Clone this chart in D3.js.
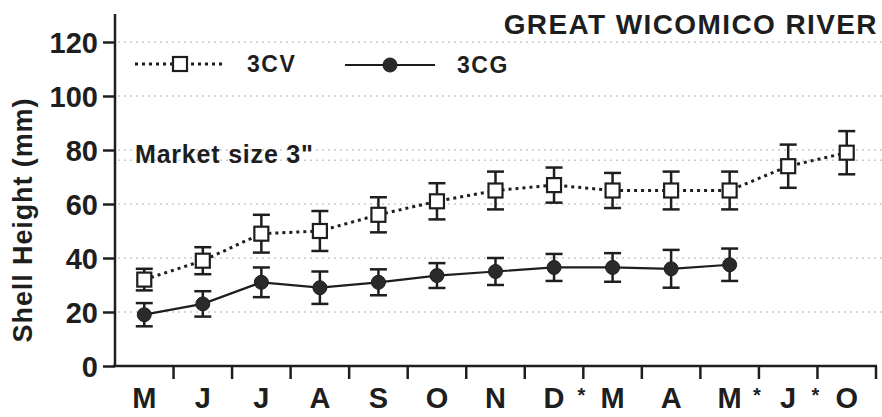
<!DOCTYPE html>
<html>
<head>
<meta charset="utf-8">
<script src="https://cdn.jsdelivr.net/npm/d3@7"></script>
<style>
  html, body { margin: 0; padding: 0; background: #fff; }
  svg { display: block; font-family: "Liberation Sans", Arial, sans-serif; font-weight: bold; }
</style>
</head>
<body>
<div id="chart"></div>
<script>
// Months of sampling (duplicated letters, so keyed by index)
const months = ["M", "J", "J", "A", "S", "O", "N", "D", "M", "A", "M", "J", "O"];
// Asterisks sit on the tick after these months
const starredAfter = [7, 10, 11];

// 3CV (open squares, dotted line)
const cvMean = [32, 39, 49, 50, 56, 61, 65, 67, 65, 65, 65, 74, 79];
const cvErr  = [4, 5, 7, 7.4, 6.5, 6.7, 7, 6.5, 6.5, 7, 7, 8, 8];
// 3CG (filled circles, solid line), no data for last two
const cgMean = [19, 23, 31, 29, 31, 33.5, 35, 36.5, 36.5, 36, 37.5];
const cgErr  = [4.3, 4.7, 5.5, 6, 4.8, 4.6, 5, 5, 5.3, 7, 6];

const yTicks = [0, 20, 40, 60, 80, 100, 120];
const marketSize = 76.2; // 3 inches in mm

const width = 882, height = 417;
const ink = "#1e1e1e";

const svg = d3.select("#chart").append("svg")
  .attr("width", width)
  .attr("height", height);

// Scales
const x = d3.scaleBand()
  .domain(d3.range(months.length))
  .range([115, 876])
  .padding(0);
const y = d3.scaleLinear()
  .domain([0, 120])
  .range([366, 42]);
const cx = i => x(i) + x.bandwidth() / 2;

// Faint dotted grid lines
svg.append("g")
  .selectAll("line")
  .data(yTicks.filter(d => d > 0).concat([marketSize]))
  .enter()
  .append("line")
  .attr("x1", 118)
  .attr("x2", 882)
  .attr("y1", d => y(d))
  .attr("y2", d => y(d))
  .attr("stroke", "#cacaca")
  .attr("stroke-width", 1.5)
  .attr("stroke-dasharray", "2,4");

// Y axis
const yAxis = svg.append("g")
  .attr("transform", "translate(115,0)")
  .call(d3.axisLeft(y).tickValues(yTicks).tickSize(12).tickPadding(5));
yAxis.select(".domain").remove();
yAxis.append("line")
  .attr("x1", 0).attr("x2", 0)
  .attr("y1", 14).attr("y2", 367)
  .attr("stroke", ink).attr("stroke-width", 2.5);
yAxis.selectAll(".tick line").attr("stroke", ink).attr("stroke-width", 2.5);
yAxis.selectAll(".tick text")
  .attr("fill", ink)
  .style("font-size", "29px")
  .style("font-weight", "bold")
  .attr("dy", "0.36em");

// X axis: ticks at band boundaries
const xAxis = svg.append("g").attr("transform", "translate(0,366)");
xAxis.append("line")
  .attr("x1", 113).attr("x2", 877)
  .attr("stroke", ink).attr("stroke-width", 2.5);
xAxis.selectAll("line.tick")
  .data(d3.range(1, months.length + 1))
  .enter()
  .append("line")
  .attr("class", "tick")
  .attr("x1", i => x.step() * i + 115)
  .attr("x2", i => x.step() * i + 115)
  .attr("y1", 0).attr("y2", 13)
  .attr("stroke", ink).attr("stroke-width", 2.5);
xAxis.selectAll("text.month")
  .data(months)
  .enter()
  .append("text")
  .attr("class", "month")
  .attr("x", (d, i) => cx(i))
  .attr("y", 42)
  .attr("text-anchor", "middle")
  .attr("fill", ink)
  .style("font-size", "29px")
  .text(d => d);
xAxis.selectAll("text.star")
  .data(starredAfter)
  .enter()
  .append("text")
  .attr("class", "star")
  .attr("x", i => x(i) + x.step() - 2)
  .attr("y", 36)
  .attr("text-anchor", "middle")
  .attr("fill", ink)
  .style("font-size", "20px")
  .text("*");

// Y axis title
svg.append("text")
  .attr("transform", "translate(32,220) rotate(-90)")
  .attr("text-anchor", "middle")
  .attr("fill", ink)
  .style("font-size", "27px")
  .style("letter-spacing", "0.9px")
  .text("Shell Height (mm)");

// Title
svg.append("text")
  .attr("x", 878)
  .attr("y", 34)
  .attr("text-anchor", "end")
  .attr("fill", ink)
  .style("font-size", "28px")
  .style("letter-spacing", "1.4px")
  .text("GREAT WICOMICO RIVER");

// Market size note
svg.append("text")
  .attr("x", 135)
  .attr("y", 163)
  .attr("fill", ink)
  .style("font-size", "25px")
  .style("letter-spacing", "0.8px")
  .text("Market size 3\"");

// Draw one series: line, error bars, markers
function drawSeries(mean, err, dashed, marker) {
  const g = svg.append("g");
  const line = d3.line().x((d, i) => cx(i)).y(d => y(d));
  g.append("path")
    .datum(mean)
    .attr("d", line)
    .attr("fill", "none")
    .attr("stroke", ink)
    .attr("stroke-width", dashed ? 3 : 2.2)
    .attr("stroke-dasharray", dashed ? "3,4" : null);

  const bars = g.selectAll("g.err")
    .data(mean)
    .enter()
    .append("g")
    .attr("class", "err")
    .attr("stroke", ink)
    .attr("stroke-width", 2.5);
  bars.append("line")
    .attr("x1", (d, i) => cx(i)).attr("x2", (d, i) => cx(i))
    .attr("y1", (d, i) => y(d + err[i])).attr("y2", (d, i) => y(d - err[i]));
  bars.append("line")
    .attr("x1", (d, i) => cx(i) - 8.5).attr("x2", (d, i) => cx(i) + 8.5)
    .attr("y1", (d, i) => y(d + err[i])).attr("y2", (d, i) => y(d + err[i]));
  bars.append("line")
    .attr("x1", (d, i) => cx(i) - 8.5).attr("x2", (d, i) => cx(i) + 8.5)
    .attr("y1", (d, i) => y(d - err[i])).attr("y2", (d, i) => y(d - err[i]));

  if (marker === "square") {
    g.selectAll("rect")
      .data(mean)
      .enter()
      .append("rect")
      .attr("x", (d, i) => cx(i) - 7)
      .attr("y", d => y(d) - 7)
      .attr("width", 14).attr("height", 14)
      .attr("fill", "#fff")
      .attr("stroke", ink)
      .attr("stroke-width", 2.2);
  } else {
    g.selectAll("circle")
      .data(mean)
      .enter()
      .append("circle")
      .attr("cx", (d, i) => cx(i))
      .attr("cy", d => y(d))
      .attr("r", 7)
      .attr("fill", "#2a2a2a")
      .attr("stroke", ink)
      .attr("stroke-width", 1);
  }
}

drawSeries(cvMean, cvErr, true, "square");
drawSeries(cgMean, cgErr, false, "circle");

// Legend
const legend = svg.append("g");
legend.append("line")
  .attr("x1", 135).attr("x2", 223).attr("y1", 64).attr("y2", 64)
  .attr("stroke", ink).attr("stroke-width", 3).attr("stroke-dasharray", "3,4");
legend.append("rect")
  .attr("x", 173).attr("y", 57).attr("width", 14).attr("height", 14)
  .attr("fill", "#fff").attr("stroke", ink).attr("stroke-width", 2.2);
legend.append("text")
  .attr("x", 247).attr("y", 72)
  .attr("fill", ink).style("font-size", "23px").style("letter-spacing", "1.5px")
  .text("3CV");
legend.append("line")
  .attr("x1", 345).attr("x2", 435).attr("y1", 65).attr("y2", 65)
  .attr("stroke", ink).attr("stroke-width", 2.2);
legend.append("circle")
  .attr("cx", 390).attr("cy", 65).attr("r", 7)
  .attr("fill", "#2a2a2a").attr("stroke", ink).attr("stroke-width", 1);
legend.append("text")
  .attr("x", 457).attr("y", 73)
  .attr("fill", ink).style("font-size", "23px").style("letter-spacing", "1.5px")
  .text("3CG");
</script>
</body>
</html>
